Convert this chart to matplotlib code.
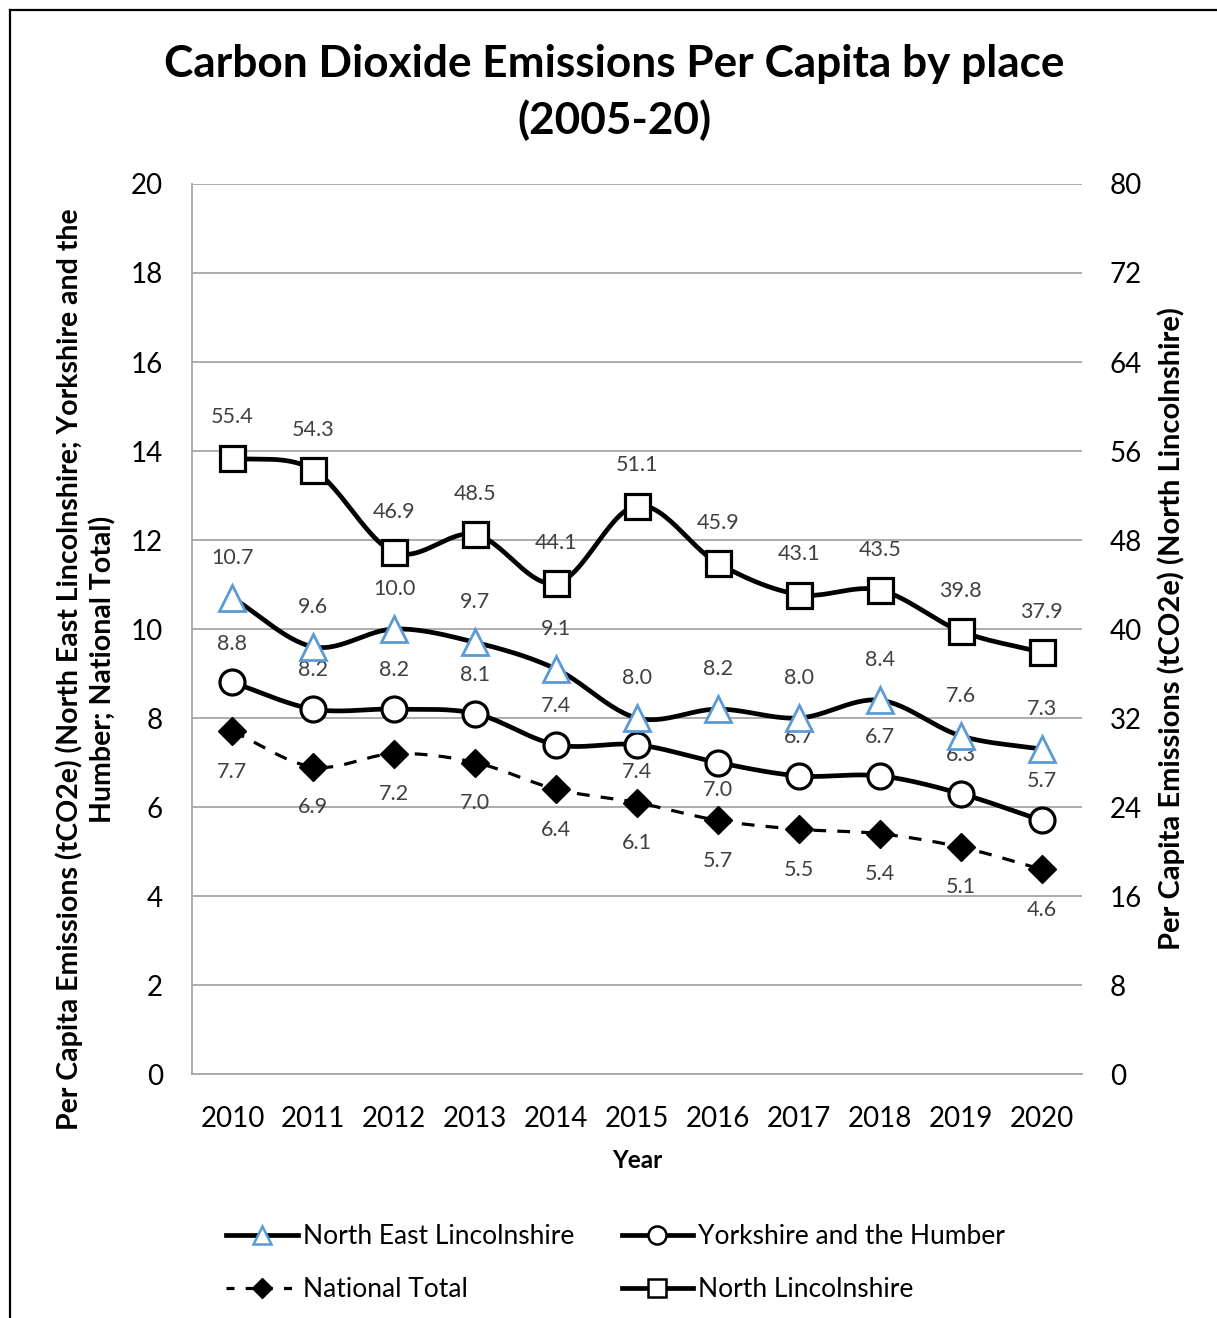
import numpy as np
import matplotlib
matplotlib.use("Agg")
import matplotlib.pyplot as plt
from matplotlib.lines import Line2D

plt.rcParams['font.family'] = ['Lato', 'DejaVu Sans']

years = ['2010', '2011', '2012', '2013', '2014', '2015', '2016', '2017', '2018', '2019', '2020']
ne_lincs = [10.7, 9.6, 10.0, 9.7, 9.1, 8.0, 8.2, 8.0, 8.4, 7.6, 7.3]
yorks_humber = [8.8, 8.2, 8.2, 8.1, 7.4, 7.4, 7.0, 6.7, 6.7, 6.3, 5.7]
national = [7.7, 6.9, 7.2, 7.0, 6.4, 6.1, 5.7, 5.5, 5.4, 5.1, 4.6]
north_lincs = [55.4, 54.3, 46.9, 48.5, 44.1, 51.1, 45.9, 43.1, 43.5, 39.8, 37.9]

# which Yorkshire labels sit under their marker
yh_below = ['2015', '2016']


def smooth(x, y, n=30):
    # Catmull-Rom curve through the points, like a spreadsheet's smoothed line
    x = np.asarray(x, float)
    y = np.asarray(y, float)
    px = np.concatenate([[2 * x[0] - x[1]], x, [2 * x[-1] - x[-2]]])
    py = np.concatenate([[2 * y[0] - y[1]], y, [2 * y[-1] - y[-2]]])
    xs, ys = [], []
    t = np.linspace(0, 1, n)
    for i in range(1, len(px) - 2):
        for p, out in ((px, xs), (py, ys)):
            p0, p1, p2, p3 = p[i - 1], p[i], p[i + 1], p[i + 2]
            m1 = (p2 - p0) / 6
            m2 = (p3 - p1) / 6
            c = ((1 - t) ** 3 * p1 + 3 * (1 - t) ** 2 * t * (p1 + m1)
                 + 3 * (1 - t) * t ** 2 * (p2 - m2) + t ** 3 * p2)
            out.extend(c)
    return np.array(xs), np.array(ys)


fig = plt.figure(figsize=(12.17, 13.18), dpi=100)
ax = fig.add_axes([0.1578, 0.1851, 0.7313, 0.6753])
ax2 = ax.twinx()

x = np.arange(len(years))
lab_col = '#404040'
lab_size = 15.5
off = 29
lw = 3.4

# National Total
sx, sy = smooth(x, national)
ax.plot(sx, sy, color='black', lw=2.3, ls=(0, (4, 3.5)), zorder=3)
ax.plot(x, national, ls='none', marker='D', ms=14, color='black', zorder=4)
for xi, v in zip(x, national):
    ax.annotate(f'{v:.1f}', (xi, v), xytext=(0, -off), textcoords='offset points',
                ha='center', va='center', fontsize=lab_size, color=lab_col)

# Yorkshire and the Humber
sx, sy = smooth(x, yorks_humber)
ax.plot(sx, sy, color='black', lw=lw, zorder=3)
ax.plot(x, yorks_humber, ls='none', marker='o', ms=18, mfc='white', mec='black',
        mew=2.3, zorder=4)
for xi, yr, v in zip(x, years, yorks_humber):
    dy = -off + 9 if yr in yh_below else off - 1
    ax.annotate(f'{v:.1f}', (xi, v), xytext=(0, dy), textcoords='offset points',
                ha='center', va='center', fontsize=lab_size, color=lab_col)

# North East Lincolnshire
sx, sy = smooth(x, ne_lincs)
ax.plot(sx, sy, color='black', lw=lw, zorder=3)
ax.plot(x, ne_lincs, ls='none', marker='^', ms=19, mfc='white', mec='#5B9BD5',
        mew=2, zorder=4)
for xi, v in zip(x, ne_lincs):
    ax.annotate(f'{v:.1f}', (xi, v), xytext=(0, off), textcoords='offset points',
                ha='center', va='center', fontsize=lab_size, color=lab_col)

# North Lincolnshire on the secondary axis
sx, sy = smooth(x, north_lincs)
ax2.plot(sx, sy, color='black', lw=lw, zorder=3)
ax2.plot(x, north_lincs, ls='none', marker='s', ms=18, mfc='white', mec='black',
         mew=2.3, zorder=4)
for xi, v in zip(x, north_lincs):
    ax2.annotate(f'{v:.1f}', (xi, v), xytext=(0, off), textcoords='offset points',
                 ha='center', va='center', fontsize=lab_size, color=lab_col)

ax.set_xlim(-0.5, len(years) - 0.5)
ax.set_ylim(0, 20)
ax2.set_ylim(0, 80)
ax.set_yticks(np.arange(0, 21, 2))
ax2.set_yticks(np.arange(0, 81, 8))
ax.set_xticks(x)
ax.set_xticklabels(years)
ax.grid(axis='y', color='#A6A6A6', lw=1.3)
ax.set_axisbelow(True)
for a in (ax, ax2):
    for s in ('top', 'right', 'left'):
        a.spines[s].set_visible(False)
ax.spines['left'].set_visible(True)
ax.spines['left'].set_color('#A6A6A6')
ax.spines['left'].set_linewidth(1.3)
ax.spines['bottom'].set_color('#A6A6A6')
ax.spines['bottom'].set_linewidth(1.3)
ax2.spines['bottom'].set_visible(False)
ax.tick_params(axis='y', length=0, labelsize=20, pad=21, colors='black')
ax.tick_params(axis='x', length=0, labelsize=20, pad=23, colors='black')
ax2.tick_params(axis='y', length=0, labelsize=20, pad=20)

ax.set_xlabel('Year', fontsize=17.5, fontweight='bold', labelpad=12)
ax.set_ylabel('Per Capita Emissions (tCO2e) (North East Lincolnshire; Yorkshire and the\n'
              'Humber; National Total)', fontsize=20.5, fontweight='bold',
              linespacing=1.3)
ax.yaxis.set_label_coords(-0.085, 0.455)
ax2.set_ylabel('Per Capita Emissions (tCO2e) (North Lincolnshire)', fontsize=21,
               fontweight='bold')
ax2.yaxis.set_label_coords(1.085, 0.5)

fig.text(0.505, 0.93, 'Carbon Dioxide Emissions Per Capita by place\n(2005-20)',
         ha='center', va='center', fontsize=31.8, fontweight='bold', linespacing=1.45)

handles = [
    Line2D([], [], color='black', lw=lw, marker='^', ms=13, mfc='white', mec='#5B9BD5', mew=1.8),
    Line2D([], [], color='black', lw=2.3, ls=(0, (2.5, 3.5)), marker='D', ms=10, mfc='black', mec='black'),
    Line2D([], [], color='black', lw=lw, marker='o', ms=13, mfc='white', mec='black', mew=1.8),
    Line2D([], [], color='black', lw=lw, marker='s', ms=13, mfc='white', mec='black', mew=1.8),
]
names = ['North East Lincolnshire', 'National Total', 'Yorkshire and the Humber', 'North Lincolnshire']
fig.legend(handles, names, loc='center', bbox_to_anchor=(0.506, 0.0415), ncol=2,
           frameon=False, fontsize=19, handlelength=2.7, handletextpad=0.2,
           columnspacing=1.8, labelspacing=1.05)

# outer frame
fig.add_artist(Line2D([10 / 1217, 10 / 1217], [0, 1 - 10 / 1318], color='black', lw=1.6,
                      transform=fig.transFigure))
fig.add_artist(Line2D([10 / 1217, 1], [1 - 10 / 1318, 1 - 10 / 1318], color='black', lw=1.6,
                      transform=fig.transFigure))

fig.savefig('out.png', dpi=100)
